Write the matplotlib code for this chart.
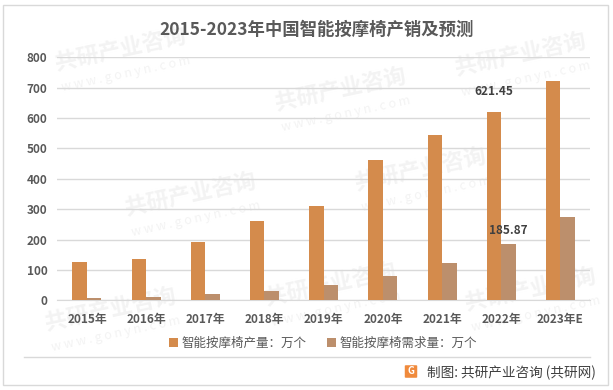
import numpy as np
import matplotlib
matplotlib.use('Agg')
import matplotlib.pyplot as plt
from matplotlib.patches import Rectangle, FancyBboxPatch
from matplotlib.lines import Line2D

plt.rcParams['font.family'] = ['Noto Sans CJK SC', 'DejaVu Sans']

# 数据
years = ['2015年', '2016年', '2017年', '2018年', '2019年', '2020年', '2021年', '2022年', '2023年E']
production = [126, 136, 192, 261, 310, 462, 544, 621.45, 722]
demand = [7.6, 11, 22, 32, 51, 81, 123, 185.87, 274]
prod_name = '智能按摩椅产量：万个'
demand_name = '智能按摩椅需求量：万个'
yticks = [0, 100, 200, 300, 400, 500, 600, 700, 800]

c_prod = '#D48B4C'
c_dem = '#BC8F6C'
txt = '#595959'

fig = plt.figure(figsize=(6.13, 3.9), dpi=100)
ax = fig.add_axes([0.0935, 0.230, 0.869, 0.623])
ax.patch.set_alpha(0)

# 水印
wm_pos = [(120, 50), (340, 90), (520, 55), (190, 195), (420, 170),
          (330, 285), (530, 290), (110, 310)]
for px, py in wm_pos:
    fig.text(px / 613, 1 - py / 390, '共研产业咨询', fontsize=16, fontweight='bold',
             color='#f3f3f3', rotation=12, ha='center', va='center', zorder=-2)
    fig.text(px / 613 + 0.01, 1 - (py + 24) / 390, 'w w w . g o n y n . c o m', fontsize=9,
             color='#f3f3f3', rotation=12, ha='center', va='center', zorder=-2)

x = np.arange(len(years))
w = 0.245
ax.bar(x - w / 2, production, w, color=c_prod, zorder=3, label=prod_name)
ax.bar(x + w / 2, demand, w, color=c_dem, zorder=3, label=demand_name)

# 数值标签
ax.annotate('621.45', (x[7] - w / 2, production[7]), xytext=(0, 10), textcoords='offset points',
            ha='center', va='bottom', fontsize=8.5, color='#404040', fontweight='bold')
ax.annotate('185.87', (x[7] + w / 2, demand[7]), xytext=(0, 5), textcoords='offset points',
            ha='center', va='bottom', fontsize=8.5, color='#404040', fontweight='bold')

ax.set_xlim(-0.5, len(years) - 0.5)
ax.set_ylim(0, 800)
ax.set_yticks(yticks)
ax.set_xticks(x)
ax.set_xticklabels(years)
ax.tick_params(length=0, labelsize=8.5, labelcolor=txt)
ax.tick_params(axis='x', pad=9)
ax.tick_params(axis='y', pad=7)
for lab in ax.get_xticklabels() + ax.get_yticklabels():
    lab.set_fontweight('bold')
ax.grid(axis='y', color='#d9d9d9', lw=1, zorder=0)
for s in ['top', 'right', 'left']:
    ax.spines[s].set_visible(False)
ax.spines['bottom'].set_color('#d9d9d9')

fig.text(0.517, 1 - 30 / 390, '2015-2023年中国智能按摩椅产销及预测', fontsize=12.5,
         fontweight='bold', color=txt, ha='center', va='center')

leg = fig.legend(loc='center', bbox_to_anchor=(0.527, 1 - 343 / 390), ncol=2, frameon=False,
                 fontsize=9, handlelength=0.7, handleheight=0.7, handletextpad=0.3,
                 columnspacing=1.6)
for t in leg.get_texts():
    t.set_color(txt)

# 边框和底部
fig.add_artist(Rectangle((3 / 613, 5 / 390), 605 / 613, 380 / 390, transform=fig.transFigure,
                         fill=False, edgecolor='#d9d9d9', lw=1))
fig.add_artist(Line2D([24 / 613, 590 / 613], [33 / 390, 33 / 390], transform=fig.transFigure,
                      color='#d9d9d9', lw=1))
fig.add_artist(FancyBboxPatch((406 / 613, 13 / 390), 10 / 613, 11 / 390, boxstyle='round,pad=0.002',
                              transform=fig.transFigure, facecolor='#F08A3C', edgecolor='none'))
fig.text(411 / 613, 18.5 / 390, 'G', fontsize=7, fontweight='bold', color='white',
         ha='center', va='center')
fig.text(427 / 613, 17 / 390, '制图: 共研产业咨询 (共研网)', fontsize=9.8, color='#404040',
         ha='left', va='center')

fig.savefig('out.png', dpi=100)
